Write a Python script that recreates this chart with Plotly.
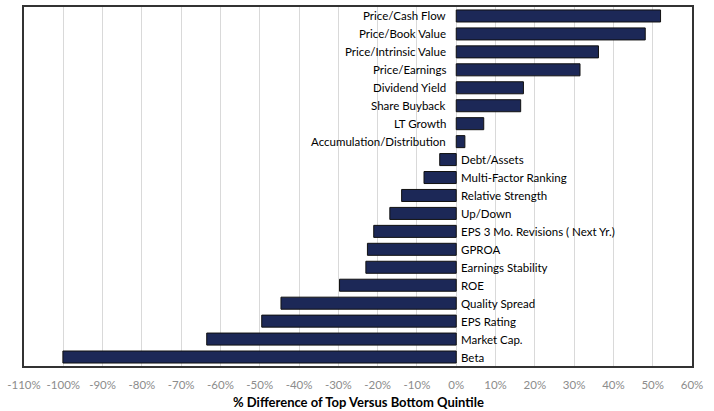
import plotly.graph_objects as go

categories = [
    "Price/Cash Flow", "Price/Book Value", "Price/Intrinsic Value", "Price/Earnings",
    "Dividend Yield", "Share Buyback", "LT Growth", "Accumulation/Distribution",
    "Debt/Assets", "Multi-Factor Ranking", "Relative Strength", "Up/Down",
    "EPS 3 Mo. Revisions ( Next Yr.)", "GPROA", "Earnings Stability", "ROE",
    "Quality Spread", "EPS Rating", "Market Cap.", "Beta",
]
values = [
    52.0, 48.1, 36.2, 31.5,
    17.1, 16.4, 7.0, 2.2,
    -4.2, -8.2, -13.9, -16.9,
    -21.0, -22.6, -23.0, -29.7,
    -44.6, -49.5, -63.5, -100.1,
]
tick_vals = list(range(-110, 61, 10))
tick_text = [f"{v}%" for v in tick_vals]
x_title = "% Difference of Top Versus Bottom Quintile"

fig = go.Figure()
fig.add_trace(go.Bar(
    x=values, y=categories, orientation="h",
    marker=dict(color="#1c2857", line=dict(color="#111111", width=1)),
    hoverinfo="x+y",
))

for c, v in zip(categories, values):
    if v >= 0:
        fig.add_annotation(x=0, y=c, text=c, showarrow=False, xanchor="right",
                           xshift=-8, font=dict(family="Lato", size=11.5, color="#000000"))
    else:
        fig.add_annotation(x=0, y=c, text=c, showarrow=False, xanchor="left",
                           xshift=3, font=dict(family="Lato", size=11.5, color="#000000"))

fig.add_annotation(xref="paper", yref="paper", x=0.5, y=0, yshift=-36, yanchor="middle",
                   text=f"<b>{x_title}</b>", showarrow=False,
                   font=dict(family="Lato", size=13, color="#000000"))

fig.update_layout(
    width=714, height=411,
    margin=dict(l=24, r=22, t=7, b=45),
    paper_bgcolor="white", plot_bgcolor="white",
    bargap=0.33,
    showlegend=False,
    font=dict(family="Lato"),
)
fig.update_xaxes(
    range=[-110, 60], tickvals=tick_vals, ticktext=tick_text, automargin=False,
    showgrid=True, gridcolor="#d9d9d9", gridwidth=1, zeroline=False,
    showline=True, linecolor="#333333", linewidth=1.5, mirror=True,
    tickfont=dict(family="Lato", size=11.5, color="#8c8c8c"),
    ticks="outside", ticklen=7, tickcolor="rgba(0,0,0,0)",
)
fig.update_yaxes(
    autorange="reversed", showticklabels=False, showgrid=False, zeroline=False, automargin=False,
    showline=True, linecolor="#333333", linewidth=1.5, mirror=True,
)

fig.write_html("out.html", config={"displayModeBar": False},
               post_script="document.body.style.margin='0';")
